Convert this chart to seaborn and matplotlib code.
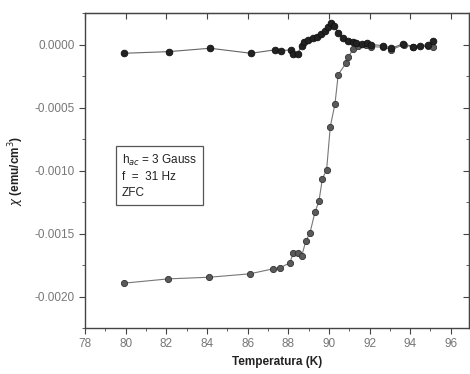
import numpy as np
import pandas as pd
import seaborn as sns
import matplotlib.pyplot as plt
from matplotlib.ticker import MultipleLocator, FormatStrFormatter

# upper branch (dark points)
temp_upper = [79.92, 82.13, 84.15, 86.16, 87.34, 87.64, 88.12, 88.24, 88.46, 88.66,
              88.77, 88.98, 89.20, 89.40, 89.59, 89.80, 89.97, 90.10, 90.26, 90.46,
              90.70, 90.95, 91.17, 91.33, 91.61, 91.90, 92.07, 92.67, 93.08, 93.65,
              94.15, 94.48, 94.88, 95.13]
chi_upper = [-0.000069, -0.000056, -0.000029, -0.000069, -0.000042, -0.000048, -0.000042,
             -0.000074, -0.000074, -0.000008, 0.000018, 0.000037, 0.000053, 0.000064,
             0.000085, 0.000111, 0.000143, 0.000169, 0.000151, 0.000093, 0.000053,
             0.000032, 0.000018, 0.000010, 0.000006, 0.000010, 0.0, -0.000008,
             -0.000029, 0.000006, -0.000016, -0.000008, -0.000002, 0.000026]

# lower branch (ZFC transition)
temp_lower = [79.92, 82.10, 84.11, 86.11, 87.26, 87.59, 88.08, 88.24, 88.46, 88.66,
              88.87, 89.07, 89.31, 89.51, 89.68, 89.89, 90.07, 90.30, 90.46, 90.86,
              90.95, 91.20, 91.44, 91.85, 92.07, 92.67, 93.08, 93.69, 94.15, 94.88, 95.11]
chi_lower = [-0.001894, -0.001860, -0.001847, -0.001820, -0.001780, -0.001772, -0.001733,
             -0.001656, -0.001651, -0.001680, -0.001556, -0.001496, -0.001333, -0.001244,
             -0.001066, -0.000992, -0.000651, -0.000471, -0.000238, -0.000143, -0.000101,
             -0.000034, -0.000008, -0.000002, -0.000016, -0.000021, -0.000040, 0.0,
             -0.000021, -0.000013, -0.000016]

df_upper = pd.DataFrame({"T": temp_upper, "chi": chi_upper})
df_lower = pd.DataFrame({"T": temp_lower, "chi": chi_lower})

sns.set_style("ticks")
plt.rcParams['font.family'] = ['Liberation Sans', 'DejaVu Sans']

fig = plt.figure(figsize=(4.7, 3.74), dpi=100)
ax = fig.add_axes([0.181, 0.123, 0.817, 0.842])

sns.lineplot(data=df_lower, x="T", y="chi", ax=ax, sort=False, estimator=None,
             color="#777777", lw=0.8, marker="o", markersize=4.5,
             markerfacecolor="#5a5a5a", markeredgecolor="#333333", markeredgewidth=0.6)
sns.lineplot(data=df_upper, x="T", y="chi", ax=ax, sort=False, estimator=None,
             color="#666666", lw=0.8, marker="o", markersize=4.8,
             markerfacecolor="#222222", markeredgecolor="#111111", markeredgewidth=0.6)

ax.set_xlim(78, 96.9)
ax.set_ylim(-0.00225, 0.00025)
ax.xaxis.set_major_locator(MultipleLocator(2))
ax.xaxis.set_minor_locator(MultipleLocator(1))
ax.yaxis.set_major_locator(MultipleLocator(0.0005))
ax.yaxis.set_minor_locator(MultipleLocator(0.00025))
ax.yaxis.set_major_formatter(FormatStrFormatter("%.4f"))

for s in ax.spines.values():
    s.set_visible(True)
    s.set_color("#444444")
    s.set_linewidth(1.0)

ax.tick_params(axis="both", which="both", direction="out", colors="#444444",
               labelcolor="#777777", labelsize=8.5)
ax.tick_params(which="major", length=4)
ax.tick_params(which="minor", length=2.5)

# inward ticks on top and right
top = ax.secondary_xaxis("top")
top.xaxis.set_major_locator(MultipleLocator(2))
top.tick_params(direction="in", length=4, colors="#444444", labeltop=False)
right = ax.secondary_yaxis("right")
right.yaxis.set_major_locator(MultipleLocator(0.0005))
right.yaxis.set_minor_locator(MultipleLocator(0.00025))
right.tick_params(which="both", direction="in", colors="#444444", labelright=False)
right.tick_params(which="major", length=4)
right.tick_params(which="minor", length=2.5)

ax.set_xlabel("Temperatura (K)", fontsize=8.5, fontweight="bold", color="#222222", labelpad=4)
ax.set_ylabel(r"$\chi$ (emu/cm$^3$)", fontsize=8.5, fontweight="bold", color="#222222", labelpad=6)

ax.text(0.095, 0.555, "h$_{ac}$ = 3 Gauss\nf  =  31 Hz\nZFC", transform=ax.transAxes,
        fontsize=8.5, color="#222222", va="top", ha="left", linespacing=1.35,
        bbox=dict(boxstyle="square,pad=0.5", fc="white", ec="#555555", lw=0.9))

fig.savefig("out.png", dpi=100)
